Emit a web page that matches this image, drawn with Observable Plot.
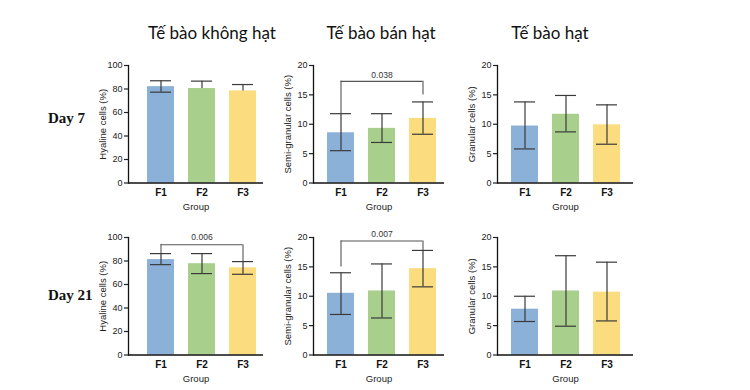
<!DOCTYPE html>
<html><head><meta charset="utf-8">
<script src="https://cdn.jsdelivr.net/npm/d3@7"></script>
<script src="https://cdn.jsdelivr.net/npm/@observablehq/plot@0.6"></script>
<style>
body{margin:0;background:#fff;}
#root{position:relative;width:750px;height:390px;overflow:hidden;background:#fff;}
.title{position:absolute;font-family:Lato,"Open Sans",sans-serif;font-size:17px;color:#111;transform:translate(-50%,-50%);white-space:nowrap;}
.day{position:absolute;font-family:"Liberation Serif","Times New Roman",serif;font-weight:bold;font-size:15px;color:#111;transform:translateY(-50%);white-space:nowrap;}
.panel{position:absolute;}
</style></head><body><div id="root"></div>
<script>
const groups = ["F1","F2","F3"];
const colTitles = ["Tế bào không hạt","Tế bào bán hạt","Tế bào hạt"];
const dayLabels = ["Day 7","Day 21"];
const yLabels = ["Hyaline cells (%)","Semi-granular cells (%)","Granular cells (%)"];
const xLabel = "Group";
const yMax = [100, 20, 20];
const yTicks100 = [0, 20, 40, 60, 80, 100];
const yTicks20 = [0, 5, 10, 15, 20];
const barColors = ["#8cb1d9", "#a8d08c", "#fbdc7e"];

// Day 7 (mean, lower error, upper error)
const hyaline7 = [82, 80.4, 78.4];
const hyaline7Lo = [77.3, 80.4, 78.4];
const hyaline7Hi = [87, 86.7, 83.8];
const semi7 = [8.55, 9.3, 11.0];
const semi7Lo = [5.5, 6.9, 8.3];
const semi7Hi = [11.8, 11.8, 13.8];
const gran7 = [9.7, 11.7, 9.9];
const gran7Lo = [5.8, 8.7, 6.6];
const gran7Hi = [13.8, 14.9, 13.3];
// Day 21
const hyaline21 = [81.2, 77.7, 74.2];
const hyaline21Lo = [76.9, 69.3, 68.7];
const hyaline21Hi = [86.3, 86.3, 79.5];
const semi21 = [10.5, 10.9, 14.7];
const semi21Lo = [6.9, 6.3, 11.6];
const semi21Hi = [14.0, 15.5, 17.8];
const gran21 = [7.8, 10.9, 10.7];
const gran21Lo = [5.7, 4.9, 5.8];
const gran21Hi = [10.0, 16.9, 15.8];

// significance brackets (F1 vs F3)
const bracketPanels = [[0, 1], [1, 0], [1, 1]];
const pValues = ["0.038", "0.006", "0.007"];
const bracketY = [17.3, 93.8, 19.4];
const bracketLeftEnd = [11.8, 86.3, 15.0];
const bracketRightEnd = [15.0, 79.5, 17.8];
const pLabelY = [18.4, 100.6, 20.6];

const series = [
  [[hyaline7, hyaline7Lo, hyaline7Hi], [semi7, semi7Lo, semi7Hi], [gran7, gran7Lo, gran7Hi]],
  [[hyaline21, hyaline21Lo, hyaline21Hi], [semi21, semi21Lo, semi21Hi], [gran21, gran21Lo, gran21Hi]]
];

// layout
const axisX = [128, 312.5, 497];
const firstOffset = [32.5, 28, 27.5];
const frameW = [135, 131, 136];
const plotTop = [65, 236.5];
const plotH = 117.5;
const mL = 45, mR = 4, mT = 16, mB = 36;
const step = 41, padIn = 0.34;
const titleX = [212, 381, 550], titleY = 32;
const dayX = 48, dayY = [118, 295];

const root = document.getElementById("root");
colTitles.forEach((t, i) => {
  const d = document.createElement("div");
  d.className = "title"; d.textContent = t;
  d.style.left = titleX[i] + "px"; d.style.top = titleY + "px";
  root.appendChild(d);
});
dayLabels.forEach((t, i) => {
  const d = document.createElement("div");
  d.className = "day"; d.textContent = t;
  d.style.left = dayX + "px"; d.style.top = dayY[i] + "px";
  root.appendChild(d);
});

const ink = "#3a3a3a";
for (let r = 0; r < 2; r++) {
  for (let c = 0; c < 3; c++) {
    const [v, lo, hi] = series[r][c];
    const data = groups.map((g, i) => ({g, v: v[i], lo: lo[i], hi: hi[i]}));
    const bw = step * (1 - padIn);
    const x0 = mL + firstOffset[c] - bw / 2;
    const width = mL + frameW[c] + mR;
    const height = mT + plotH + mB;
    const marks = [
      Plot.barY(data, {x: "g", y: "v", fill: "g"}),
      Plot.ruleX(data, {x: "g", y1: "lo", y2: "hi", stroke: ink, strokeWidth: 1.2}),
      Plot.tickY(data, {x: "g", y: "hi", stroke: ink, strokeWidth: 1.2, insetLeft: 3, insetRight: 3}),
      Plot.tickY(data.filter(d => d.lo < d.v), {x: "g", y: "lo", stroke: ink, strokeWidth: 1.2, insetLeft: 3, insetRight: 3}),
      Plot.axisY({ticks: yMax[c] === 100 ? yTicks100 : yTicks20, tickSize: 4, tickPadding: 2, fontSize: 9, strokeWidth: 1.2, label: null, tickFormat: d => d, fill: "#222"}),
      Plot.axisX({tickSize: 0, tickPadding: 6, fontSize: 10, fontWeight: "bold", label: null, fill: "#111"}),
      Plot.ruleY([0], {stroke: "#111", strokeWidth: 1.3}),
      Plot.frame({anchor: "left", stroke: "#111", strokeWidth: 1.3}),
      Plot.text([yLabels[c]], {frameAnchor: "left", textAnchor: "middle", rotate: -90, dx: -26, fontSize: 9.5, fill: "#222"}),
      Plot.text([xLabel], {frameAnchor: "bottom", textAnchor: "middle", dy: 27, fontSize: 9.5, fill: "#222"})
    ];
    bracketPanels.forEach(([br, bc], k) => {
      if (br !== r || bc !== c) return;
      marks.push(
        Plot.ruleY([bracketY[k]], {y: d => d, x1: () => "F1", x2: () => "F3", insetLeft: bw / 2, insetRight: bw / 2, stroke: "#555", strokeWidth: 1.1}),
        Plot.ruleX([{g: "F1", a: bracketLeftEnd[k], b: bracketY[k]}, {g: "F3", a: bracketRightEnd[k], b: bracketY[k]}], {x: "g", y1: "a", y2: "b", stroke: "#555", strokeWidth: 1.1}),
        Plot.text([{g: "F2", y: pLabelY[k], t: pValues[k]}], {x: "g", y: "y", text: "t", fontSize: 8.5, fill: "#333"})
      );
    });
    const svg = Plot.plot({
      width, height,
      marginLeft: mL, marginRight: mR, marginTop: mT, marginBottom: mB,
      x: {domain: groups, range: [x0, x0 + step * (3 - padIn)], paddingInner: padIn, paddingOuter: 0},
      y: {domain: [0, yMax[c]]},
      color: {domain: groups, range: barColors},
      style: {fontFamily: "'Liberation Sans', Arial, sans-serif", color: "#222", background: "transparent", overflow: "visible"},
      marks
    });
    const wrap = document.createElement("div");
    wrap.className = "panel";
    wrap.style.left = (axisX[c] - mL) + "px";
    wrap.style.top = (plotTop[r] - mT) + "px";
    wrap.appendChild(svg);
    root.appendChild(wrap);
  }
}
</script></body></html>
